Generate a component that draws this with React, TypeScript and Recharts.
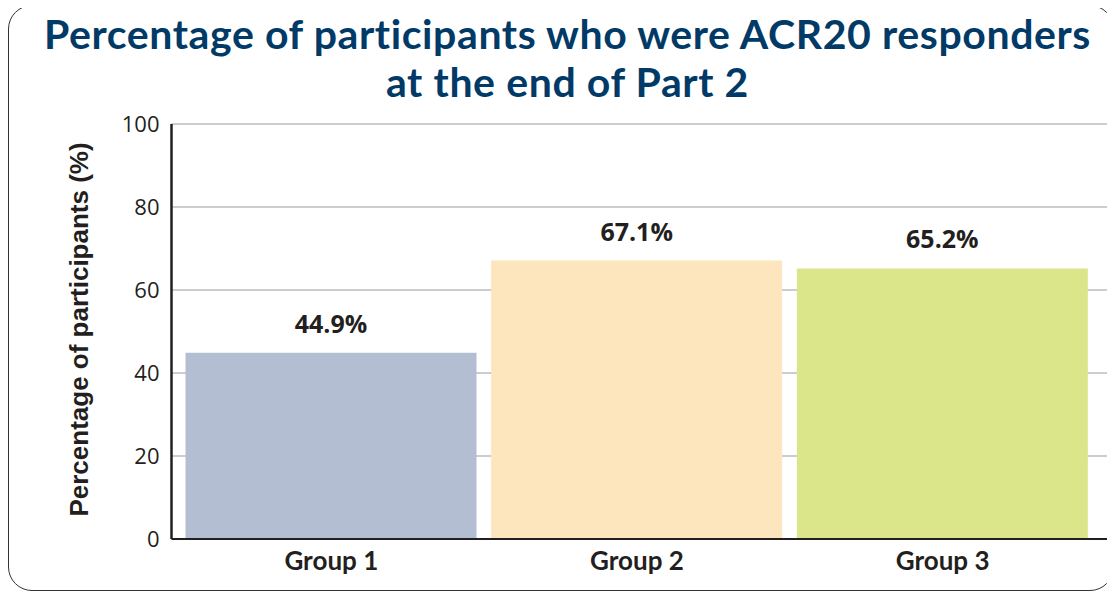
import { Bar, BarChart, CartesianGrid, LabelList, XAxis, YAxis } from "recharts";

const groups = ["Group 1", "Group 2", "Group 3"];
const responders = [44.9, 67.1, 65.2];
const barColors = ["#b3bed3", "#fde5bd", "#dbe58a"];
const yTicks = [0, 20, 40, 60, 80, 100];

const chartData = groups.map((name, i) => ({ name, value: responders[i], fill: barColors[i] }));

const ink = "#231f20";

function YTitle({ viewBox }: any) {
  const cx = viewBox.x - 33;
  const cy = viewBox.y + viewBox.height / 2 - 2;
  return (
    <text
      x={cx}
      y={cy}
      transform={`rotate(-90, ${cx}, ${cy})`}
      textAnchor="middle"
      dominantBaseline="central"
      fontFamily="'Liberation Sans', Arial, sans-serif"
      fontWeight={700}
      fontSize={26}
      fill={ink}
    >
      Percentage of participants (%)
    </text>
  );
}

export default function App() {
  return (
    <div
      style={{
        position: "relative",
        width: 1106,
        height: 586,
        marginTop: -3,
        border: "1.5px solid #333",
        borderRadius: 24,
        boxSizing: "border-box",
        background: "#fff",
      }}
    >
      <div
        style={{
          position: "absolute",
          left: 7,
          top: 4,
          width: 1103,
          textAlign: "center",
          fontFamily: "Lato, sans-serif",
          fontWeight: 700,
          fontSize: 41,
          letterSpacing: 0.6,
          lineHeight: "48px",
          color: "#013a66",
        }}
      >
        Percentage of participants who were ACR20 responders
        <br />
        at the end of Part 2
      </div>
      <div style={{ position: "absolute", left: 0, top: 0 }}>
        <BarChart
          width={1103}
          height={583}
          data={chartData}
          margin={{ top: 118, right: 4.5, bottom: 20, left: 102.5 }}
        >
          <CartesianGrid horizontal vertical={false} stroke="#bdbdbd" strokeWidth={1.5} />
          <XAxis
            dataKey="name"
            height={30}
            padding={{ left: 7, right: 12 }}
            tickLine={false}
            tickMargin={7}
            axisLine={{ stroke: ink, strokeWidth: 2 }}
            tick={{ fill: ink, fontFamily: "Lato, sans-serif", fontWeight: 700, fontSize: 26 }}
          />
          <YAxis
            width={60}
            domain={[0, 100]}
            ticks={yTicks}
            interval={0}
            tickLine={false}
            tickMargin={6}
            axisLine={{ stroke: ink, strokeWidth: 2.5 }}
            tick={{ fill: ink, fontFamily: "'Open Sans', sans-serif", fontSize: 22 }}
            label={<YTitle />}
          />
          <Bar dataKey="value" barSize={291} isAnimationActive={false}>
            <LabelList
              dataKey="value"
              position="top"
              offset={20}
              formatter={(v: any) => `${v}%`}
              style={{ fill: ink, fontFamily: "'Open Sans', sans-serif", fontWeight: 700, fontSize: 25 }}
            />
          </Bar>
        </BarChart>
      </div>
    </div>
  );
}
